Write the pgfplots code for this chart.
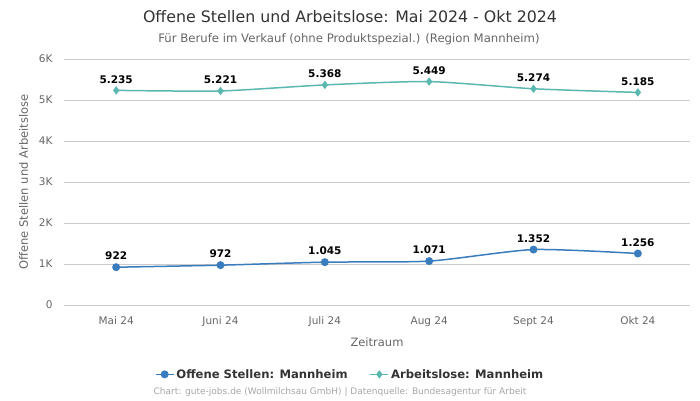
\documentclass[border=0pt]{standalone}
\usepackage{pgfplots}
\pgfplotsset{compat=1.18}
\usepackage{fontspec}
\setmainfont{DejaVu Sans}
\definecolor{cblue}{HTML}{3A7DBF}
\definecolor{cteal}{HTML}{5AB8B0}
\definecolor{tgray}{HTML}{666666}
\definecolor{ggray}{HTML}{CCCCCC}
\begin{document}
\begin{tikzpicture}
\useasboundingbox (0pt,0pt) rectangle (700pt,400pt);
\node[font=\fontsize{15.8}{18}\selectfont, text=black!80] at (350pt,383pt) {Offene Stellen und Arbeitslose: Mai 2024 - Okt 2024};
\node[font=\fontsize{11.7}{14}\selectfont, text=tgray] at (349pt,361pt) {Für Berufe im Verkauf (ohne Produktspezial.) (Region Mannheim)};
\begin{axis}[
  at={(64pt,95pt)}, anchor=south west,
  scale only axis, width=626pt, height=246pt,
  xmin=-0.5, xmax=5.5, ymin=0, ymax=6000,
  xtick={0,...,5},
  xticklabels={Mai 24,Juni 24,Juli 24,Aug 24,Sept 24,Okt 24},
  ytick={0,1000,2000,3000,4000,5000,6000},
  yticklabels={0,1K,2K,3K,4K,5K,6K},
  ymajorgrids, grid style={ggray, line width=0.6pt},
  axis line style={draw=none},
  major tick length=0pt,
  tick label style={font=\fontsize{10.5}{12}\selectfont, text=tgray},
  xticklabel style={yshift=-8pt},
  yticklabel style={xshift=-8pt},
  xlabel={Zeitraum}, xlabel style={font=\fontsize{11.5}{14}\selectfont, text=tgray, yshift=-4pt},
  ylabel={Offene Stellen und Arbeitslose}, ylabel style={font=\fontsize{11.5}{14}\selectfont, text=tgray, yshift=4pt},
  clip=false,
  nodes near coords, 
  every node near coord/.append style={font=\bfseries\fontsize{10.5}{12}\selectfont, text=black, yshift=3pt},
  point meta=explicit symbolic,
  legend columns=2,
  legend style={draw=none, at={(0.457,-0.282)}, anchor=center, font=\bfseries\fontsize{11.6}{14}\selectfont, text=black!80, /tikz/every even column/.append style={column sep=20pt}},
  legend image code/.code={\draw[#1] (0pt,0pt) -- (18pt,0pt); \draw[#1, mark repeat=1] plot coordinates {(9pt,0pt)};},
]
\addplot[cblue, line width=1.5pt, smooth, tension=0.4, mark=*, mark size=3.2pt, mark options={solid}] coordinates {
(0,922) [922] (1,972) [972] (2,1045) [1.045] (3,1071) [1.071] (4,1352) [1.352] (5,1256) [1.256]};
\addlegendentry{Offene Stellen: Mannheim}
\addplot[cteal, line width=1.5pt, smooth, tension=0.4, mark=diamond*, mark size=3pt, mark options={solid}] coordinates {
(0,5235) [5.235] (1,5221) [5.221] (2,5368) [5.368] (3,5449) [5.449] (4,5274) [5.274] (5,5185) [5.185]};
\addlegendentry{Arbeitslose: Mannheim}
\end{axis}
\node[font=\fontsize{9}{10}\selectfont, text=black!35] at (340pt,8pt) {Chart: gute-jobs.de (Wollmilchsau GmbH) | Datenquelle: Bundesagentur für Arbeit};
\end{tikzpicture}
\end{document}
